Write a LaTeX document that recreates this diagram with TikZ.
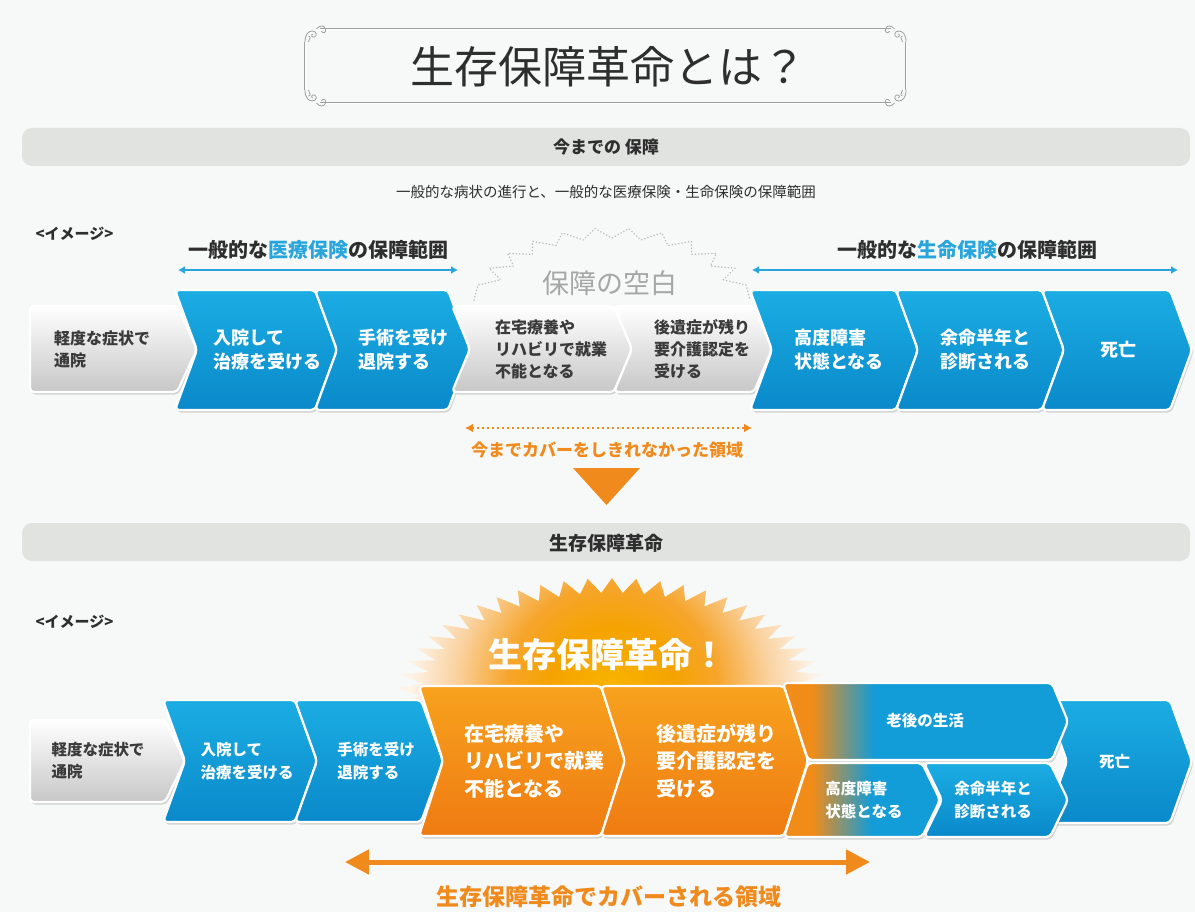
\documentclass[tikz,border=0pt]{standalone}
\usepackage{fontspec}
\setmainfont{Noto Sans CJK JP}
\usepackage{xcolor}
\definecolor{bgwhite}{HTML}{F6F9F7}
\definecolor{bandgray}{HTML}{E1E3E1}
\definecolor{darktxt}{HTML}{2E2E2E}
\definecolor{graytxt}{HTML}{3A3A3A}
\definecolor{hdblue}{HTML}{27A5DC}
\definecolor{bluetop}{HTML}{1BADE3}
\definecolor{bluemid}{HTML}{129CD8}
\definecolor{bluebot}{HTML}{0A89CA}
\definecolor{orangetop}{HTML}{F7A21E}
\definecolor{orangemid}{HTML}{F28C18}
\definecolor{orangebot}{HTML}{EF7B12}
\definecolor{txtorange}{HTML}{F08A1D}
\definecolor{burstcore}{HTML}{F8B400}
\definecolor{burstmid}{HTML}{F5A300}
\definecolor{burstorange}{HTML}{F6A52C}
\definecolor{burstpale}{HTML}{FAD3A2}
\definecolor{burstedge}{HTML}{FDF3E8}
\usetikzlibrary{arrows.meta, shadows}
\pgfdeclareradialshading{burstshade}{\pgfpoint{0bp}{0bp}}{color(0bp)=(burstcore); color(7bp)=(burstmid); color(12bp)=(burstorange); color(18bp)=(burstpale); color(23bp)=(burstedge); color(50bp)=(burstedge)}
\pgfdeclarehorizontalshading{mixlong}{100bp}{color(0bp)=(orangemid); color(30bp)=(orangemid); color(41bp)=(bluemid); color(100bp)=(bluemid)}
\pgfdeclarehorizontalshading{mixshort}{100bp}{color(0bp)=(orangemid); color(34bp)=(orangemid); color(53bp)=(bluemid); color(100bp)=(bluemid)}
\tikzstyle{boxbase}=[draw=white, line width=2.2pt, rounded corners=4pt, drop shadow={shadow xshift=1.5pt, shadow yshift=-2.5pt, opacity=0.3}]
\tikzstyle{graybox}=[boxbase, top color=white, bottom color=black!22]
\tikzstyle{bluebox}=[boxbase, top color=bluetop, bottom color=bluebot]
\tikzstyle{orangebox}=[boxbase, top color=orangetop, bottom color=orangebot]
\tikzstyle{mixlongbox}=[boxbase, shading=mixlong]
\tikzstyle{mixshortbox}=[boxbase, shading=mixshort]
\tikzstyle{graylabel}=[text=graytxt, inner sep=0pt, align=left, font=\bfseries\fontsize{16}{22}\selectfont]
\tikzstyle{graysmall}=[text=graytxt, inner sep=0pt, align=left, font=\bfseries\fontsize{15.5}{22}\selectfont]
\tikzstyle{bluelabel}=[text=white, inner sep=0pt, align=left, font=\bfseries\fontsize{18}{24}\selectfont]
\tikzstyle{bluesmall}=[text=white, inner sep=0pt, align=left, font=\bfseries\fontsize{15.5}{23}\selectfont]
\tikzstyle{orangelabel}=[text=white, inner sep=0pt, align=left, font=\bfseries\fontsize{20}{27.5}\selectfont]
\tikzstyle{bandtext}=[text=darktxt, font=\bfseries\fontsize{17}{20}\selectfont]
\tikzstyle{spanhead}=[text=darktxt, font=\bfseries\fontsize{20}{24}\selectfont]
\tikzstyle{imagetag}=[text=darktxt, font=\bfseries\fontsize{15}{18}\selectfont]
\tikzstyle{frameline}=[draw=gray!75, double=white, double distance=0.9pt, line width=0.7pt]
\tikzstyle{ornline}=[draw=gray!75, line width=0.8pt]
\tikzstyle{bluespan}=[draw=hdblue, line width=2pt, {Latex[length=7pt,width=8pt]}-{Latex[length=7pt,width=8pt]}]
\tikzstyle{gapspan}=[draw=txtorange, line width=2pt, dash pattern=on 2pt off 3pt, {Latex[length=8pt,width=9pt]}-{Latex[length=8pt,width=9pt]}]
\tikzstyle{coverspan}=[draw=txtorange, line width=5pt, {Triangle[length=24pt,width=24pt]}-{Triangle[length=24pt,width=24pt]}]
\tikzstyle{gapline}=[draw=gray!55, line width=1.6pt, dash pattern=on 0.1pt off 3.2pt, line cap=round]
% chevron: name, box style, text style, x0, x1, top, bottom, tip depth, text
\newcommand{\chev}[9]{%
  \path[#2] (#4,#6) -- ({#5-#8},#6) -- (#5,{(#6+#7)/2}) -- ({#5-#8},#7) -- (#4,#7) -- ({#4+#8},{(#6+#7)/2}) -- cycle;
  \node[#3] (#1) at ({(#4+#5)/2+#8/2},{(#6+#7)/2}) {#9};}

\begin{document}
\begin{tikzpicture}[x=1pt, y=-1pt]
		\useasboundingbox (0,0) rectangle (1195,912);
		\fill[bgwhite] (0,0) rectangle (1195,912);

		% title frame
		\draw[frameline] (320,29) -- (891,29);
		\draw[frameline] (320,103) -- (891,103);
		\draw[frameline] (305,42) -- (305,90);
		\draw[frameline] (906,42) -- (906,90);
		\foreach \sx/\sy in {1/1,-1/1,1/-1,-1/-1}{
			\begin{scope}[shift={(605.5,66)}, xscale=\sx, yscale=\sy]
				\draw[ornline] (-300.5,-24) .. controls (-300.5,-32) and (-297,-35) .. (-293,-35) .. controls (-289,-35) and (-288,-30) .. (-291,-29) .. controls (-294,-28) and (-295,-32) .. (-292.5,-32);
				\draw[ornline] (-289,-37) .. controls (-286,-41) and (-281,-41) .. (-280,-37) .. controls (-279,-33) and (-283,-32) .. (-284,-35);
				\draw[ornline] (-297,-24) .. controls (-296,-28) and (-294,-29) .. (-297,-30);
			\end{scope}}
		\node(title)[text=darktxt, font=\fontsize{44}{50}\selectfont] at (608,67) {生存保障革命とは？};

		% band: until now
		\fill[bandgray, rounded corners=10pt] (22,128) rectangle (1190,166);
		\node(band1)[bandtext] at (606,147) {今までの 保障};
		\node(sub1)[text=darktxt, font=\fontsize{14.5}{17}\selectfont] at (606,192) {一般的な病状の進行と、一般的な医療保険・生命保険の保障範囲};
		\node(tag1)[imagetag, anchor=west] at (32,234) {<イメージ>};

		% coverage spans
		\node(medhead)[spanhead] at (318,250) {一般的な\textcolor{hdblue}{医療保険}の保障範囲};
		\node(lifehead)[spanhead] at (967,250) {一般的な\textcolor{hdblue}{生命保険}の保障範囲};
		\coordinate(medL) at (178,270);
		\coordinate(medR) at (458,270);
		\coordinate(lifeL) at (752,270);
		\coordinate(lifeR) at (1178,270);
		\draw[bluespan] (medL) -- (medR);
		\draw[bluespan] (lifeL) -- (lifeR);

		% gap outline
		\draw[gapline] (474,300) \foreach \i [evaluate=\i as \a using 168-\i*156/22, evaluate=\i as \f using 1-0.14*(\i-2*floor(\i/2))] in {0,...,22} { -- ({612+137*\f*cos(\a)},{300-72*\f*sin(\a)}) } -- (750,300);
		\node(gap)[text=gray!70, font=\fontsize{27}{30}\selectfont] at (610,283) {保障の空白};

		% row 1
		\path[graybox] (30,306) -- (177,306) -- (197,349) -- (177,392) -- (30,392) -- cycle;
		\node(r1-1)[graylabel] at (102,349) {軽度な症状で\\通院};
		\chev{r1-2}{bluebox}{bluelabel}{175}{337}{290}{410}{22}{入院して\\治療を受ける}
		\chev{r1-3}{bluebox}{bluelabel}{315}{470}{290}{410}{22}{手術を受け\\退院する}
		\chev{r1-4}{graybox}{graylabel}{452}{632}{306}{392}{18}{在宅療養や\\リハビリで就業\\不能となる}
		\chev{r1-5}{graybox}{graylabel}{614}{772}{306}{392}{18}{後遺症が残り\\要介護認定を\\受ける}
		\chev{r1-6}{bluebox}{bluelabel, xshift=-6pt}{750}{918}{290}{410}{22}{高度障害\\状態となる}
		\chev{r1-7}{bluebox}{bluelabel, xshift=-6pt}{896}{1064}{290}{410}{22}{余命半年と\\診断される}
		\chev{r1-8}{bluebox}{bluelabel, xshift=-10pt}{1042}{1192}{290}{410}{22}{死亡}

		% uncovered span
		\coordinate(gapL) at (465,428);
		\coordinate(gapR) at (752,428);
		\draw[gapspan] (gapL) -- (gapR);
		\node(gaptext)[text=txtorange, font=\bfseries\fontsize{17}{20}\selectfont] at (607,450) {今までカバーをしきれなかった領域};
		\fill[txtorange] (573,468) -- (640,468) -- (606.5,505) -- cycle;

		% band: revolution
		\fill[bandgray, rounded corners=10pt] (22,523) rectangle (1190,561);
		\node(band2)[bandtext, font=\bfseries\fontsize{19}{22}\selectfont] at (606,543) {生存保障革命};
		\node(tag2)[imagetag, anchor=west] at (32,622) {<イメージ>};

		% starburst
		\begin{scope}
			\clip (395,770) \foreach \i [evaluate=\i as \a using 180-\i*180/56, evaluate=\i as \f using 1-0.12*(\i-2*floor(\i/2))] in {0,...,56} { -- ({612+217*\f*cos(\a)},{702-124*\f*sin(\a)}) } -- (830,770) -- cycle;
			\shade[shading=burstshade] (612,690) circle (220);
		\end{scope}
		\node(burst)[text=white, font=\bfseries\fontsize{34}{38}\selectfont] at (607,655) {生存保障革命！};

		% row 2
		\path[graybox] (30,720) -- (165,720) -- (185,761) -- (165,802) -- (30,802) -- cycle;
		\node(r2-1)[graysmall] at (98,761) {軽度な症状で\\通院};
		\chev{r2-2}{bluebox}{bluesmall, xshift=-4pt}{163}{317}{700}{822}{22}{入院して\\治療を受ける}
		\chev{r2-3}{bluebox}{bluesmall, xshift=-4pt}{295}{443}{700}{822}{22}{手術を受け\\退院する}
		\chev{r2-4}{orangebox}{orangelabel}{419}{625}{686}{836}{24}{在宅療養や\\リハビリで就業\\不能となる}
		\chev{r2-5}{orangebox}{orangelabel}{601}{808}{686}{836}{24}{後遺症が残り\\要介護認定を\\受ける}
		\chev{r2-9}{bluebox}{bluesmall, xshift=-15pt}{1045}{1192}{700}{823}{22}{死亡}
		\path[mixlongbox] (783,683) -- (1052,683) -- (1068,721.5) -- (1052,760) -- (808,760) -- cycle;
		\node(r2-6)[bluesmall] at (925,721) {老後の生活};
		\path[mixshortbox] (808,763) -- (922,763) -- (940,800) -- (922,837) -- (784,837) -- cycle;
		\node(r2-7)[bluesmall] at (864,800) {高度障害\\状態となる};
		\path[bluebox] (924,763) -- (1050,763) -- (1068,800) -- (1050,837) -- (924,837) -- (942,800) -- cycle;
		\node(r2-8)[bluesmall] at (993,800) {余命半年と\\診断される};

		% covered span
		\coordinate(coverL) at (345,862);
		\coordinate(coverR) at (870,862);
		\draw[coverspan] (coverL) -- (coverR);
		\node(covertext)[text=txtorange, font=\bfseries\fontsize{23}{26}\selectfont] at (609,897) {生存保障革命でカバーされる領域};
	\end{tikzpicture}
\end{document}
